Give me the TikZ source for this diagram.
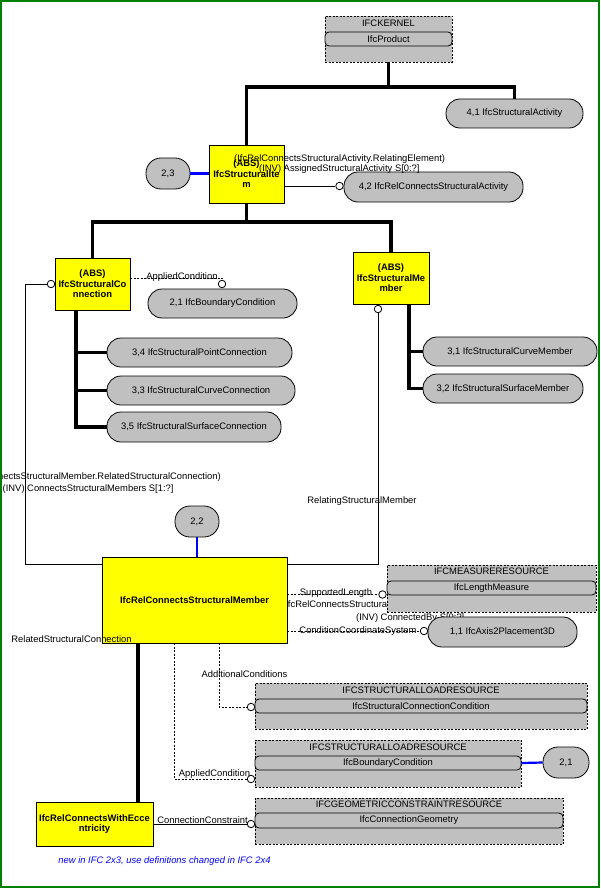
\documentclass[tikz,border=0pt]{standalone}
\usepackage{fontspec}
\setmainfont{Liberation Sans}
\usetikzlibrary{calc}
\definecolor{ifcyellow}{RGB}{255,255,0}
\definecolor{ifcgray}{RGB}{192,192,192}
\definecolor{ifcgreen}{RGB}{0,128,0}
\definecolor{ifcblue}{RGB}{0,0,255}
\tikzset{
  lbl/.style={inner sep=0pt, font=\fontsize{9.4}{11}\selectfont},
  entity/.style={draw, fill=ifcyellow, line width=0.8pt, inner sep=0pt, align=center,
    font=\fontsize{9.4}{10.5}\selectfont\bfseries},
  pill/.style={draw, fill=ifcgray, line width=0.8pt, inner sep=0pt, rounded corners=14pt,
    minimum height=29pt, font=\fontsize{9.4}{11}\selectfont},
  schemabox/.style={draw, fill=ifcgray, line width=0.8pt, dash pattern=on 2pt off 1.5pt, inner sep=0pt},
  schemarow/.style={draw, fill=ifcgray, line width=0.8pt, rounded corners=4pt, inner sep=0pt,
    minimum height=14pt, font=\fontsize{9.4}{11}\selectfont},
  inh/.style={line width=3.2pt},
  ref/.style={line width=0.8pt},
  optref/.style={line width=0.8pt, dash pattern=on 2pt off 1.5pt},
  bluelink/.style={ifcblue, line width=2.2pt},
  endcirc/.style={circle, draw, fill=white, line width=0.8pt, minimum size=7.5pt, inner sep=0pt},
}
\begin{document}
\begin{tikzpicture}[x=1pt, y=-1pt]
\useasboundingbox (0,0) rectangle (600,888);
% labels that lie behind boxes
\node[lbl, anchor=west] (hidrel) at (282,605) {(IfcRelConnectsStructuralMember.ConditionCoordinateSystem)};
\node[lbl, anchor=west] (hidinv) at (356,618) {(INV) ConnectedBy S[0:?]};

% schema boxes
\node[schemabox, minimum width=127pt, minimum height=46pt] (kern) at (388.5,39) {};
\node[lbl] (kernt) at (388.5,23) {IFCKERNEL};
\node[schemarow, minimum width=127pt] (product) at (388.5,39) {IfcProduct};

\node[schemabox, minimum width=209pt, minimum height=47pt] (meas) at (491.5,588.5) {};
\node[lbl] (meast) at (491.5,571) {IFCMEASURERESOURCE};
\node[schemarow, minimum width=209pt] (lenrow) at (491.5,588) {IfcLengthMeasure};

\node[schemabox, minimum width=332pt, minimum height=46pt] (load1) at (421,706) {};
\node[lbl] (load1t) at (421,690) {IFCSTRUCTURALLOADRESOURCE};
\node[schemarow, minimum width=332pt] (condrow) at (421,706) {IfcStructuralConnectionCondition};

\node[schemabox, minimum width=266pt, minimum height=47pt] (load2) at (388,763.5) {};
\node[lbl] (load2t) at (388,747) {IFCSTRUCTURALLOADRESOURCE};
\node[schemarow, minimum width=266pt] (bcrow) at (388,763) {IfcBoundaryCondition};

\node[schemabox, minimum width=308pt, minimum height=46pt] (geom) at (409,821) {};
\node[lbl] (geomt) at (409,804) {IFCGEOMETRICCONSTRAINTRESOURCE};
\node[schemarow, minimum width=308pt, minimum height=15pt] (geomrow) at (409,820.5) {IfcConnectionGeometry};

% entities
\node[entity, minimum width=75pt, minimum height=58pt] (item) at (246.5,174) {(ABS)\\IfcStructuralIte\\m};
\node[entity, minimum width=75pt, minimum height=52pt] (conn) at (92.5,284) {(ABS)\\IfcStructuralCo\\nnection};
\node[entity, minimum width=76pt, minimum height=52pt] (memb) at (391,278) {(ABS)\\IfcStructuralMe\\mber};
\node[entity, minimum width=185pt, minimum height=86pt] (relm) at (194.5,600) {IfcRelConnectsStructuralMember};
\node[entity, minimum width=117pt, minimum height=44pt] (ecc) at (94.5,824) {IfcRelConnectsWithEcce\\ntricity};

% references to other pages
\node[pill, minimum width=137pt] (act41) at (514.5,113.5) {4,1 IfcStructuralActivity};
\node[pill, minimum width=179pt, minimum height=30pt] (act42) at (433.5,187) {4,2 IfcRelConnectsStructuralActivity};
\node[pill, minimum width=44pt, minimum height=31pt, rounded corners=15pt] (p23) at (168,173.5) {2,3};
\node[pill, minimum width=149pt] (bc21) at (222.5,303.5) {2,1 IfcBoundaryCondition};
\node[pill, minimum width=185pt] (p34) at (199.5,352.5) {3,4 IfcStructuralPointConnection};
\node[pill, minimum width=188pt] (p33) at (201,390.5) {3,3 IfcStructuralCurveConnection};
\node[pill, minimum width=174pt, minimum height=30pt] (p35) at (194,427) {3,5 IfcStructuralSurfaceConnection};
\node[pill, minimum width=174pt] (p31) at (510,351.5) {3,1 IfcStructuralCurveMember};
\node[pill, minimum width=160pt] (p32) at (503,388.5) {3,2 IfcStructuralSurfaceMember};
\node[pill, minimum width=44pt, minimum height=31pt, rounded corners=15pt] (p22) at (197,521.5) {2,2};
\node[pill, minimum width=149pt, minimum height=30pt] (p11) at (502.5,632) {1,1 IfcAxis2Placement3D};
\node[pill, minimum width=46pt, minimum height=31pt, rounded corners=15pt] (p21) at (566,762.5) {2,1};

% subtype trees
\coordinate (kj) at (389,87);
\draw[inh] (kern.south) -- (kern.south |- kj);
\draw[inh] (item.north) |- (kj) -| (act41.north);
\coordinate (ij) at (247,222);
\draw[inh] (item.south) -- (item.south |- ij);
\draw[inh] (conn.north) |- (ij) -| (memb.north);
\coordinate (cs) at (76,310);
\draw[inh] (cs) |- (p35.west);
\draw[inh] (cs |- p34.west) -- (p34.west);
\draw[inh] (cs |- p33.west) -- (p33.west);
\coordinate (ms) at (409,304);
\draw[inh] (ms) |- (p32.west);
\draw[inh] (ms |- p31.west) -- (p31.west);
\coordinate (rs) at (138,643);
\draw[inh] (rs) -- (rs |- ecc.north);

% links to page references
\draw[bluelink] (p23.east) -- (p23.east -| item.west);
\draw[bluelink] (p22.south) -- (p22.south |- relm.north);
\draw[bluelink] (bcrow.east) -- (p21.west);

% attributes
\node[endcirc] (c42) at (339.5,186) {};
\draw[ref] (c42 -| item.east) -- (c42.west);

\node[endcirc] (cconn) at (51,284) {};
\coordinate (lbend) at (25,564);
\draw[ref] (cconn.west) -| (lbend) -- (lbend -| relm.west);

\node[endcirc] (cbc) at (222,284) {};
\coordinate (acbend) at (222,278);
\draw[optref] (acbend -| conn.east) -- (acbend) -- (cbc.north);

\node[endcirc] (cmemb) at (378,309) {};
\coordinate (rbend) at (378,564);
\draw[ref] (cmemb.south) -- (rbend) -- (rbend -| relm.east);

\node[endcirc] (csl) at (382.5,594.5) {};
\draw[optref] (csl -| relm.east) -- (csl.west);

\node[endcirc] (cccs) at (424,631) {};
\draw[optref] (cccs -| relm.east) -- (cccs.west);

\node[endcirc] (cadd) at (251,707) {};
\coordinate (addbend) at (219,707);
\draw[optref] (relm.south -| addbend) -- (addbend) -- (cadd.west);

\node[endcirc] (capp) at (251,779) {};
\coordinate (appbend) at (174,779);
\draw[optref] (relm.south -| appbend) -- (appbend) -- (capp.west);

\node[endcirc] (ccon) at (251,824) {};
\draw[ref] (ccon -| ecc.east) -- (ccon.west);

% role names
\node[lbl, anchor=west] (lact1) at (234,159) {(IfcRelConnectsStructuralActivity.RelatingElement)};
\node[lbl, anchor=west] (lact2) at (259,169) {(INV) AssignedStructuralActivity S[0:?]};
\node[lbl] (lacond) at (182,277) {AppliedCondition};
\node[lbl, anchor=east] (lrel1) at (221,477) {(IfcRelConnectsStructuralMember.RelatedStructuralConnection)};
\node[lbl, anchor=west] (lrel2) at (2.5,489) {(INV) ConnectsStructuralMembers S[1:?]};
\node[lbl] (lrelating) at (362,501) {RelatingStructuralMember};
\node[lbl] (lrelated) at (71.5,639) {RelatedStructuralConnection};
\node[lbl] (lsupp) at (336,593) {SupportedLength};
\node[lbl] (lccs) at (358,631) {ConditionCoordinateSystem};
\node[lbl] (laddc) at (244.5,674) {AdditionalConditions};
\node[lbl] (lappc) at (214.5,774) {AppliedCondition};
\node[lbl] (lconstr) at (202.5,820) {ConnectionConstraint};
\node[lbl, text=ifcblue, font=\fontsize{9.4}{11}\selectfont\itshape] (note) at (164.5,861)
  {new in IFC 2x3, use definitions changed in IFC 2x4};

\draw[ifcgreen, line width=2pt] (1,1) rectangle (599,887);
\end{tikzpicture}
\end{document}
